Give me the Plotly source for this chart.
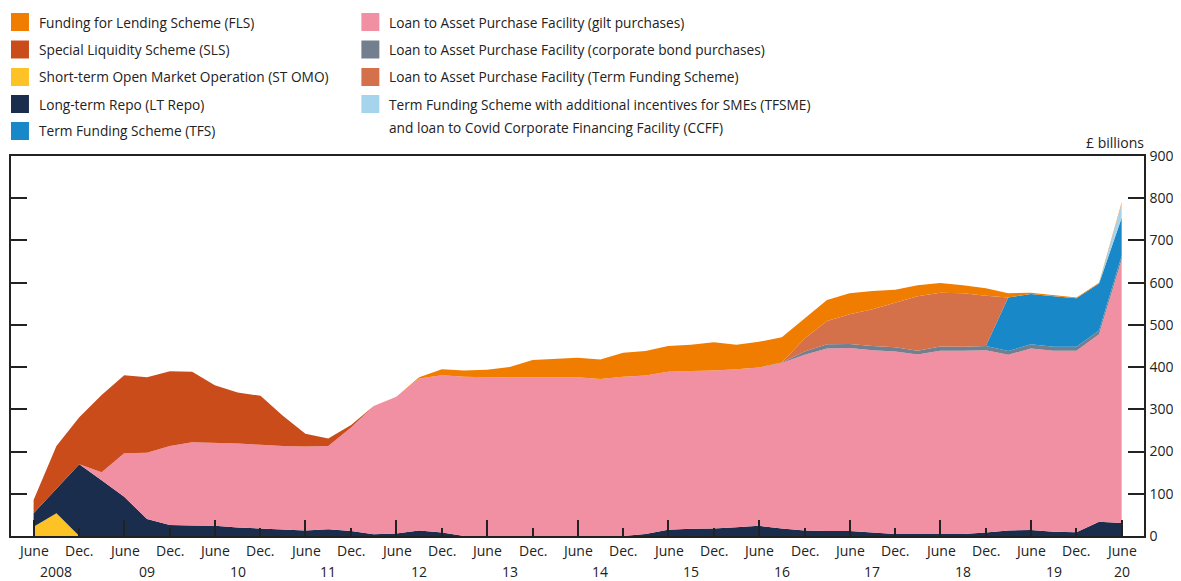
import plotly.graph_objects as go

# ---------------- data (£ billions, quarter ends June 2008 - June 2020) ----------------
dates = [f"{y}-{md}" for y in range(2008, 2021) for md in ("03-31", "06-30", "09-30", "12-31")]
dates = [d for d in dates if "2008-06-30" <= d <= "2020-06-30"]

st_omo = [22, 54, 0,
          0, 0, 0, 0,  0, 0, 0, 0,  0, 0, 0, 0,  0, 0, 0, 0,
          0, 0, 0, 0,  0, 0, 0, 0,  0, 0, 0, 0,  0, 0, 0, 0,
          0, 0, 0, 0,  0, 0, 0, 0,  0, 0, 0, 0,
          0, 0]
lt_repo = [32, 58, 170,
           132, 93, 40, 26,  25, 24, 20, 18,  15, 13, 16, 12,  4, 6, 13, 8,
           0, 0, 0, 0,  0, 0, 0, 0,  5, 15, 17, 18,  21, 24, 18, 13,
           12, 12, 8, 5,  5, 5, 5, 8,  13, 14, 10, 9,
           34, 31]
apf_gilts = [0, 0, 0,
             19, 103, 157, 187,  197, 197, 199, 198,  198, 199, 197, 245,  304, 324, 360, 373,
             377, 376, 376, 376,  377, 376, 372, 377,  375, 374, 374, 374,  374, 375, 392, 416,
             432, 433, 432, 432,  425, 434, 434, 432,  416, 430, 429, 430,
             444, 624]
apf_corp = [0, 0, 0,
            0, 0, 0, 0,  0, 0, 0, 0,  0, 0, 0, 0,  0, 0, 0, 0,
            0, 0, 0, 0,  0, 0, 0, 0,  0, 0, 0, 0,  0, 0, 1, 8,
            10, 10, 10, 10,  9, 10, 9, 10,  9, 10, 9, 9,
            9, 9]
tfs = [0, 0, 0,
       0, 0, 0, 0,  0, 0, 0, 0,  0, 0, 0, 0,  0, 0, 0, 0,
       0, 0, 0, 0,  0, 0, 0, 0,  0, 0, 0, 0,  0, 0, 0, 0,
       0, 0, 0, 0,  0, 0, 0, 0,  127, 119, 120, 115,
       111, 90]
apf_tfs = [0, 0, 0,
           0, 0, 0, 0,  0, 0, 0, 0,  0, 0, 0, 0,  0, 0, 0, 0,
           0, 0, 0, 0,  0, 0, 0, 0,  0, 0, 0, 0,  0, 0, 0, 31,
           55, 70, 87, 105,  129, 127, 127, 119,  0, 0, 0, 0,
           0, 0]
tfsme = [0, 0, 0,
         0, 0, 0, 0,  0, 0, 0, 0,  0, 0, 0, 0,  0, 0, 0, 0,
         0, 0, 0, 0,  0, 0, 0, 0,  0, 0, 0, 0,  0, 0, 0, 0,
         0, 0, 0, 0,  0, 0, 0, 0,  0, 0, 0, 0,
         0, 33]
fls = [0, 0, 0,
       0, 0, 0, 0,  0, 0, 0, 0,  0, 0, 0, 0,  0, 0, 3, 14,
       15, 18, 24, 41,  43, 46, 46, 57,  58, 61, 62, 67,  58, 61, 60, 47,
       50, 50, 43, 31,  26, 23, 19, 18,  10, 3, 2, 2,
       2, 3]
sls = [31, 101, 111,
       183, 185, 179, 177,  167, 136, 121, 116,  72, 30, 18, 6,  0, 0, 0, 0,
       0, 0, 0, 0,  0, 0, 0, 0,  0, 0, 0, 0,  0, 0, 0, 0,
       0, 0, 0, 0,  0, 0, 0, 0,  0, 0, 0, 0,
       0, 0]

names = {
    "fls": "Funding for Lending Scheme (FLS)",
    "sls": "Special Liquidity Scheme (SLS)",
    "st_omo": "Short-term Open Market Operation (ST OMO)",
    "lt_repo": "Long-term Repo (LT Repo)",
    "tfs": "Term Funding Scheme (TFS)",
    "apf_gilts": "Loan to Asset Purchase Facility (gilt purchases)",
    "apf_corp": "Loan to Asset Purchase Facility (corporate bond purchases)",
    "apf_tfs": "Loan to Asset Purchase Facility (Term Funding Scheme)",
    "tfsme": "Term Funding Scheme with additional incentives for SMEs (TFSME)\nand loan to Covid Corporate Financing Facility (CCFF)",
}
colors = {
    "fls": "#F07C00", "sls": "#CA4C1B", "st_omo": "#FDC226", "lt_repo": "#1B2D4C",
    "tfs": "#1888C8", "apf_gilts": "#F18FA3", "apf_corp": "#737F8E",
    "apf_tfs": "#D4704A", "tfsme": "#A6D4EC",
}
values = {"st_omo": st_omo, "lt_repo": lt_repo, "apf_gilts": apf_gilts, "apf_corp": apf_corp,
          "tfs": tfs, "apf_tfs": apf_tfs, "tfsme": tfsme, "fls": fls, "sls": sls}
stack_order = ["st_omo", "lt_repo", "apf_gilts", "apf_corp", "tfs", "apf_tfs", "tfsme", "fls", "sls"]
legend_cols = [["fls", "sls", "st_omo", "lt_repo", "tfs"],
               ["apf_gilts", "apf_corp", "apf_tfs", "tfsme"]]

june_dates = [f"{y}-06-30" for y in range(2008, 2021)]
dec_dates = [f"{y}-12-31" for y in range(2008, 2020)]
year_labels = ["2008", "09", "10", "11", "12", "13", "14", "15", "16", "17", "18", "19", "20"]
year_pos = [f"{y}-09-30" for y in range(2008, 2020)] + ["2020-06-30"]
y_ticks = [0, 100, 200, 300, 400, 500, 600, 700, 800, 900]

# ---------------- layout geometry (page pixels; page body has an 8px margin) ----------------
PAGE_W, PAGE_H = 1181, 581
OX, OY = 8, 8
PL, PT, PR, PB = 9, 156, 1144, 536          # plot box in page pixels
W, H = PAGE_W - OX, PAGE_H - OY
def px(x):
    return (x - PL) / (PR - PL)
def py(y):
    return (PB - y) / (PB - PT)

TXT = "#222222"
FONT = "Open Sans"

fig = go.Figure()
for key in stack_order:
    fig.add_trace(go.Scatter(
        x=dates, y=values[key], name=names[key].replace("\n", " "),
        stackgroup="one", mode="lines", line=dict(width=0),
        fillcolor=colors[key], hoverinfo="x+y+name", showlegend=False))

annotations = []
shapes = []
# month labels
for d in june_dates:
    annotations.append(dict(x=d, y=py(550), xref="x", yref="paper", text="June",
                            showarrow=False, xanchor="center", yanchor="middle"))
for d in dec_dates:
    annotations.append(dict(x=d, y=py(550), xref="x", yref="paper", text="Dec.",
                            showarrow=False, xanchor="center", yanchor="middle"))
for lab, d in zip(year_labels, year_pos):
    annotations.append(dict(x=d, y=py(571), xref="x", yref="paper", text=lab,
                            showarrow=False, xanchor="center", yanchor="middle"))
annotations.append(dict(x=px(1146), y=py(142), xref="paper", yref="paper", text="£ billions",
                        showarrow=False, xanchor="right", yanchor="middle"))

# legend
col_x = [9, 360]
row_y = [22, 49.5, 77, 104, 131]
for ci, col in enumerate(legend_cols):
    x0 = col_x[ci]
    for ri, key in enumerate(col):
        yc = row_y[ri]
        shapes.append(dict(type="rect", xref="paper", yref="paper",
                           x0=px(x0), x1=px(x0 + 18), y0=py(yc + 9), y1=py(yc - 9),
                           fillcolor=colors[key], line=dict(width=0)))
        for li, line in enumerate(names[key].split("\n")):
            annotations.append(dict(x=px(x0 + 26), y=py(yc + li * 23.5), xref="paper", yref="paper",
                                    text=line, showarrow=False, xanchor="left", yanchor="middle",
                                    font=dict(size=13.7)))

fig.update_layout(
    width=W, height=H,
    margin=dict(l=PL - OX, r=PAGE_W - PR, t=PT - OY, b=PAGE_H - PB, pad=0),
    paper_bgcolor="white", plot_bgcolor="white",
    font=dict(family=FONT, size=14, color=TXT),
    showlegend=False,
    annotations=annotations, shapes=shapes,
    xaxis=dict(type="date", range=["2008-03-31", "2020-09-28"],
               tickmode="array", tickvals=june_dates, showticklabels=False,
               ticks="inside", ticklen=16, tickwidth=1.5, tickcolor=TXT,
               minor=dict(tickmode="array", tickvals=dec_dates, ticks="inside",
                          ticklen=8, tickwidth=1.5, tickcolor=TXT, showgrid=False),
               showline=True, linewidth=1.5, linecolor=TXT, mirror=True,
               showgrid=False, zeroline=False),
    yaxis=dict(range=[0, 900], tickmode="array", tickvals=y_ticks, side="right",
               ticks="inside", ticklen=16, tickwidth=1.5, tickcolor=TXT,
               showline=True, linewidth=1.5, linecolor=TXT, mirror="ticks",
               showgrid=False, zeroline=False, tickfont=dict(size=14, color=TXT),
               ticklabelstandoff=1),
)

fig.write_html("out.html")
